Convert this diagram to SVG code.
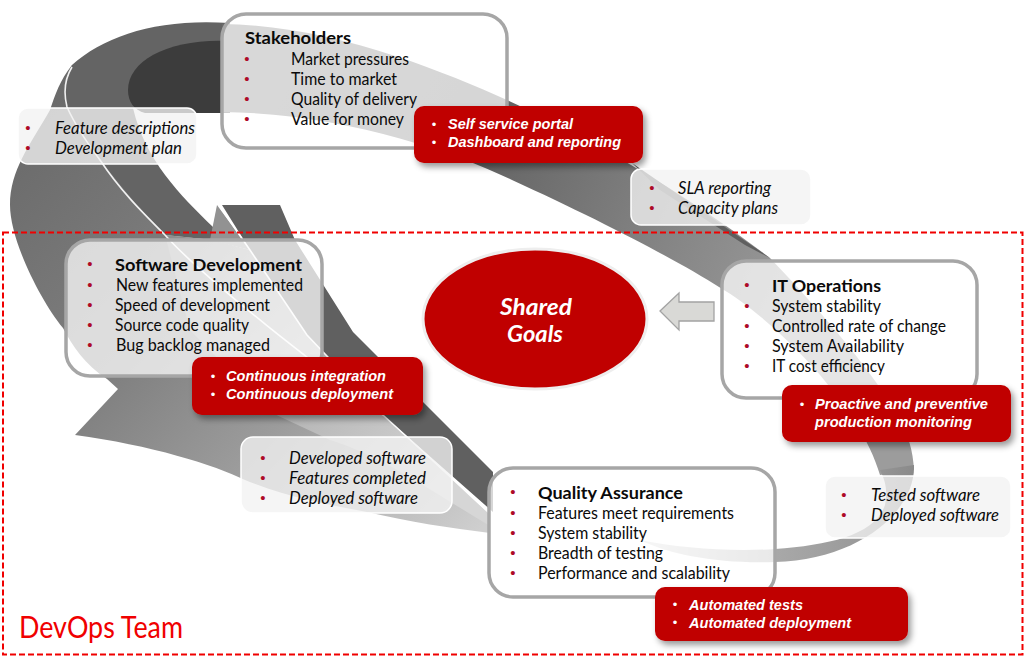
<svg xmlns="http://www.w3.org/2000/svg" width="1024" height="664" viewBox="0 0 1024 664">
<style>
text{font-family:Lato,"Open Sans",sans-serif;fill:#0a0a0a}
.t{font-size:16.4px}
.h{font-size:16.4px;font-weight:700}
.i{font-size:16.4px;font-style:italic}
.r{font-family:"Liberation Sans",Arial,sans-serif;font-size:14.5px;font-weight:700;font-style:italic;fill:#fff}
.b{font-family:"Liberation Sans",Arial,sans-serif;font-size:15px;fill:#ae0a26;text-anchor:middle}
.w{font-family:"Liberation Sans",Arial,sans-serif;font-size:13px;fill:#fff;text-anchor:middle}
.box{fill:#fff;fill-opacity:.74;stroke:#a6a6a6;stroke-width:3.5}
.pale{fill:#f2f2f2;fill-opacity:.78;stroke:#fff;stroke-width:1.5}
.red{fill:#c00000;filter:url(#sh)}
.hl{fill:none;stroke:#fff;stroke-width:1.6;stroke-opacity:.9}
</style>
<defs>
<filter id="sh" x="-10%" y="-20%" width="125%" height="150%"><feDropShadow dx="3" dy="4" stdDeviation="3" flood-color="#000" flood-opacity=".4"/></filter>
<linearGradient id="g1" gradientUnits="userSpaceOnUse" x1="230" y1="60" x2="800" y2="330"><stop offset="0" stop-color="#6a6a6a"/><stop offset=".4" stop-color="#626262"/><stop offset=".75" stop-color="#858585"/><stop offset="1" stop-color="#9c9c9c"/></linearGradient>
<linearGradient id="g2" gradientUnits="userSpaceOnUse" x1="640" y1="0" x2="915" y2="0"><stop offset="0" stop-color="#ddd"/><stop offset=".5" stop-color="#a8a8a8"/><stop offset=".8" stop-color="#9a9a9a"/><stop offset="1" stop-color="#8a8a8a"/></linearGradient>
<linearGradient id="g3" gradientUnits="userSpaceOnUse" x1="40" y1="100" x2="480" y2="530"><stop offset="0" stop-color="#6a6a6a"/><stop offset=".4" stop-color="#808080"/><stop offset=".65" stop-color="#9c9c9c"/><stop offset="1" stop-color="#cfcfcf"/></linearGradient>
<linearGradient id="g4" gradientUnits="userSpaceOnUse" x1="200" y1="230" x2="450" y2="480"><stop offset="0" stop-color="#8e8e8e"/><stop offset="1" stop-color="#d6d6d6"/></linearGradient>
</defs>
<rect width="1024" height="664" fill="#fff"/>
<g id="swirl">
<path fill="url(#g3)" d="M72,65 C60,80 55,95 50,110 C30,145 10,170 10,205 C10,240 40,300 63,328 C72,345 85,365 107,379 L118,389 L75,435 C150,445 215,465 245,480 C290,498 330,505 367,512 C410,522 450,528 490,533 L490,515 C440,470 400,440 383,415 C320,360 220,300 165,235 L67,107 Z"/>
<path fill="url(#g4)" d="M165,235 L213,240 L250,250 L307,335 L383,415 L490,515 L490,526 C430,490 380,455 330,440 L270,412 L190,330 Z"/>
<path fill="#646464" d="M230,23 C160,18 105,35 72,65 C62,85 63,100 67,107 C75,130 130,200 165,235 L213,240 L213,227 C180,195 145,160 133,108 L230,113 Z"/>
<path fill="#929292" d="M217,205 L210,240 L250,250 Z"/>
<path fill="#606060" d="M222,205 L280,205 L295,240 L353,332 L493,472 L493,512 L383,415 L307,335 L250,250 Z"/>
<path fill="#3c3c3c" d="M230,41 C170,38 128,60 128,90 C128,102 134,110 145,113 L230,113 Z"/>
<path fill="url(#g1)" d="M222,24 C330,25 440,70 507,100 C560,125 640,165 732,230 L770,258 C820,310 880,380 900,420 C908,435 913,450 914,470 L880,475 C870,440 845,405 820,375 C790,340 750,305 719,287 C680,262 600,220 512,180 C450,150 340,113 222,112 Z"/>
<path fill="#5f5f5f" d="M632,163 L770,258 L745,245 L660,190 Z"/>
<path fill="url(#g2)" d="M880,470 L914,465 C916,510 860,560 775,562 C720,564 670,555 640,540 C680,548 730,552 775,549 C830,545 875,535 885,505 C888,490 885,480 880,470 Z"/>
<path class="hl" d="M72,67 C64,80 64,95 67,107 C75,125 85,140 100,160 C120,190 140,210 165,235 C210,285 330,375 383,415 L487,510"/>
<path class="hl" d="M220,207 L250,250 L307,335 L383,415"/>
</g>
<g id="connectors">
<path d="M660,311 L679,293 L679,302 L714,302 L714,321 L679,321 L679,330 Z" fill="#d9d9d6" stroke="#a3a3a3" stroke-width="1.3"/>
</g>
<g id="team">
<rect x="3" y="232.500" width="1019.500" height="422" fill="none" stroke="#f00000" stroke-width="2" stroke-dasharray="6 3"/>
<text x="19" y="638" font-size="30" style="fill:#f00000" textLength="164" lengthAdjust="spacingAndGlyphs">DevOps Team</text>
</g>
<g id="goals">
<ellipse cx="535" cy="319" rx="112" ry="70" fill="#c00000" stroke="#eeeeee" stroke-width="3"/>
<text x="500" y="315" font-size="22" font-weight="700" font-style="italic" style="fill:#fff" textLength="72" lengthAdjust="spacingAndGlyphs">Shared</text>
<text x="507" y="342" font-size="22" font-weight="700" font-style="italic" style="fill:#fff" textLength="56" lengthAdjust="spacingAndGlyphs">Goals</text>
</g>
<g id="stakeholders">
<rect class="box" x="222" y="14" width="285" height="134" rx="24"/>
<text class="h" x="245" y="44" textLength="106" lengthAdjust="spacingAndGlyphs">Stakeholders</text>
<text class="b" x="247" y="64">•</text><text class="b" x="247" y="84">•</text><text class="b" x="247" y="104">•</text><text class="b" x="247" y="124">•</text>
<text class="t" x="291" y="65" textLength="118" lengthAdjust="spacingAndGlyphs">Market pressures</text>
<text class="t" x="291" y="85" textLength="106" lengthAdjust="spacingAndGlyphs">Time to market</text>
<text class="t" x="291" y="105" textLength="126" lengthAdjust="spacingAndGlyphs">Quality of delivery</text>
<text class="t" x="291" y="125" textLength="113" lengthAdjust="spacingAndGlyphs">Value for money</text>
</g>
<g id="stakeholders-tools">
<rect class="red" x="414" y="106" width="229" height="57" rx="10"/>
<text class="w" x="434" y="129">•</text><text class="w" x="434" y="147">•</text>
<text class="r" x="448" y="129" textLength="125" lengthAdjust="spacingAndGlyphs">Self service portal</text>
<text class="r" x="448" y="147" textLength="173" lengthAdjust="spacingAndGlyphs">Dashboard and reporting</text>
</g>
<g id="feature-docs">
<rect class="pale" x="18" y="108" width="179" height="56" rx="10"/>
<text class="b" x="28" y="133">•</text><text class="b" x="28" y="153">•</text>
<text class="i" x="55" y="134" textLength="140" lengthAdjust="spacingAndGlyphs">Feature descriptions</text>
<text class="i" x="55" y="154" textLength="127" lengthAdjust="spacingAndGlyphs">Development plan</text>
</g>
<g id="sla-docs">
<rect class="pale" x="631" y="169" width="180" height="56" rx="10"/>
<text class="b" x="652" y="193">•</text><text class="b" x="652" y="213">•</text>
<text class="i" x="678" y="194" textLength="93" lengthAdjust="spacingAndGlyphs">SLA reporting</text>
<text class="i" x="678" y="214" textLength="100" lengthAdjust="spacingAndGlyphs">Capacity plans</text>
</g>
<g id="software-development">
<rect class="box" x="66" y="240" width="256" height="136" rx="24"/>
<text class="b" x="90" y="269">•</text><text class="b" x="90" y="290">•</text><text class="b" x="90" y="310">•</text><text class="b" x="90" y="330">•</text><text class="b" x="90" y="350">•</text>
<text class="h" x="115" y="271" textLength="187" lengthAdjust="spacingAndGlyphs">Software Development</text>
<text class="t" x="116" y="291" textLength="187" lengthAdjust="spacingAndGlyphs">New features implemented</text>
<text class="t" x="115" y="311" textLength="155" lengthAdjust="spacingAndGlyphs">Speed of development</text>
<text class="t" x="115" y="331" textLength="134" lengthAdjust="spacingAndGlyphs">Source code quality</text>
<text class="t" x="116" y="351" textLength="154" lengthAdjust="spacingAndGlyphs">Bug backlog managed</text>
</g>
<g id="software-tools">
<rect class="red" x="192" y="357" width="231" height="58" rx="10"/>
<text class="w" x="213" y="381">•</text><text class="w" x="213" y="399">•</text>
<text class="r" x="226" y="381" textLength="160" lengthAdjust="spacingAndGlyphs">Continuous integration</text>
<text class="r" x="226" y="399" textLength="167" lengthAdjust="spacingAndGlyphs">Continuous deployment</text>
</g>
<g id="developed-docs">
<rect class="pale" x="241" y="437" width="211" height="76" rx="12"/>
<text class="b" x="263" y="463">•</text><text class="b" x="263" y="483">•</text><text class="b" x="263" y="503">•</text>
<text class="i" x="289" y="464" textLength="137" lengthAdjust="spacingAndGlyphs">Developed software</text>
<text class="i" x="289" y="484" textLength="137" lengthAdjust="spacingAndGlyphs">Features completed</text>
<text class="i" x="289" y="504" textLength="129" lengthAdjust="spacingAndGlyphs">Deployed software</text>
</g>
<g id="it-operations">
<rect class="box" x="722" y="261" width="255" height="137" rx="24"/>
<text class="b" x="747" y="290">•</text><text class="b" x="747" y="311">•</text><text class="b" x="747" y="331">•</text><text class="b" x="747" y="351">•</text><text class="b" x="747" y="371">•</text>
<text class="h" x="772" y="292" textLength="109" lengthAdjust="spacingAndGlyphs">IT Operations</text>
<text class="t" x="772" y="312" textLength="109" lengthAdjust="spacingAndGlyphs">System stability</text>
<text class="t" x="772" y="332" textLength="174" lengthAdjust="spacingAndGlyphs">Controlled rate of change</text>
<text class="t" x="772" y="352" textLength="132" lengthAdjust="spacingAndGlyphs">System Availability</text>
<text class="t" x="772" y="372" textLength="113" lengthAdjust="spacingAndGlyphs">IT cost efficiency</text>
</g>
<g id="operations-tools">
<rect class="red" x="782" y="385" width="229" height="57" rx="10"/>
<text class="w" x="802" y="409">•</text>
<text class="r" x="815" y="409" textLength="173" lengthAdjust="spacingAndGlyphs">Proactive and preventive</text>
<text class="r" x="815" y="427" textLength="157" lengthAdjust="spacingAndGlyphs">production monitoring</text>
</g>
<g id="tested-docs">
<rect class="pale" x="825" y="476" width="186" height="62" rx="10"/>
<text class="b" x="844" y="500">•</text><text class="b" x="844" y="520">•</text>
<text class="i" x="871" y="501" textLength="109" lengthAdjust="spacingAndGlyphs">Tested software</text>
<text class="i" x="871" y="521" textLength="128" lengthAdjust="spacingAndGlyphs">Deployed software</text>
</g>
<g id="quality-assurance">
<rect class="box" x="489" y="468" width="286" height="129" rx="24"/>
<text class="b" x="513" y="497">•</text><text class="b" x="513" y="518">•</text><text class="b" x="513" y="538">•</text><text class="b" x="513" y="558">•</text><text class="b" x="513" y="578">•</text>
<text class="h" x="538" y="499" textLength="145" lengthAdjust="spacingAndGlyphs">Quality Assurance</text>
<text class="t" x="538" y="519" textLength="196" lengthAdjust="spacingAndGlyphs">Features meet requirements</text>
<text class="t" x="538" y="539" textLength="109" lengthAdjust="spacingAndGlyphs">System stability</text>
<text class="t" x="538" y="559" textLength="125" lengthAdjust="spacingAndGlyphs">Breadth of testing</text>
<text class="t" x="538" y="579" textLength="192" lengthAdjust="spacingAndGlyphs">Performance and scalability</text>
</g>
<g id="quality-tools">
<rect class="red" x="655" y="587" width="253" height="54" rx="10"/>
<text class="w" x="675" y="609">•</text><text class="w" x="675" y="627">•</text>
<text class="r" x="689" y="610" textLength="114" lengthAdjust="spacingAndGlyphs">Automated tests</text>
<text class="r" x="689" y="628" textLength="162" lengthAdjust="spacingAndGlyphs">Automated deployment</text>
</g>
</svg>
